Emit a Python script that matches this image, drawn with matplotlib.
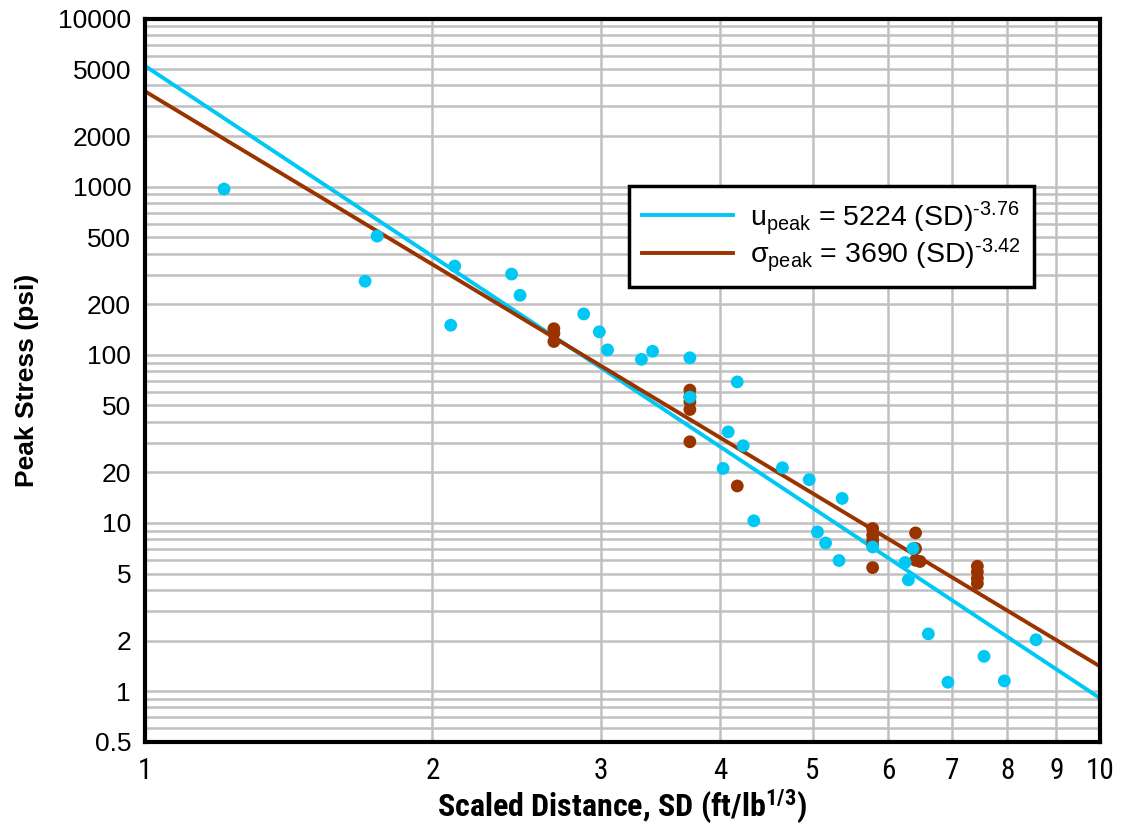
import numpy as np
import matplotlib
matplotlib.use("Agg")
import matplotlib.pyplot as plt
from matplotlib import font_manager
from matplotlib.ticker import FixedLocator, NullFormatter, LogLocator

# pick a condensed face for the x axis if one is installed
installed = set(f.name for f in font_manager.fontManager.ttflist)
narrow = 'Liberation Sans'
for cand in ['Liberation Sans Narrow', 'DejaVu Sans Condensed', 'Roboto Condensed',
             'Open Sans Condensed', 'Noto Sans Condensed']:
    if cand in installed:
        narrow = cand
        break

plt.rcParams['font.family'] = ['Liberation Sans', 'DejaVu Sans']
plt.rcParams['mathtext.fontset'] = 'custom'
plt.rcParams['mathtext.rm'] = 'Liberation Sans'
plt.rcParams['mathtext.it'] = 'Liberation Sans:italic'
plt.rcParams['mathtext.bf'] = narrow + ':bold'

# particle velocity data (blue)
sd_u = [1.21, 1.70, 1.75, 2.09, 2.11, 2.42, 2.47, 2.88, 2.99, 3.05, 3.31, 3.40,
        3.72, 3.72, 4.17, 4.08, 4.23, 4.03, 4.34, 4.65, 4.96, 5.37, 5.06, 5.16,
        5.33, 5.78, 6.25, 6.30, 6.37, 6.61, 6.93, 7.56, 7.94, 8.57]
u_peak = [968, 274, 508, 150, 337, 302, 226, 175, 137, 107, 94, 105,
          96, 56, 69, 34.8, 28.8, 21.1, 10.3, 21.3, 18.1, 14.0, 8.85, 7.6,
          5.98, 7.2, 5.82, 4.59, 7.05, 2.19, 1.13, 1.61, 1.15, 2.02]

# stress data (brown)
sd_s = [2.68, 2.68, 2.68, 3.72, 3.72, 3.72, 3.72, 3.72, 4.17,
        5.78, 5.78, 5.78, 5.78, 5.78, 6.41, 6.41, 6.41, 6.48,
        7.44, 7.44, 7.44, 7.44]
s_peak = [143, 134, 120, 61.7, 56.3, 52.5, 47.3, 30.4, 16.6,
          9.27, 8.46, 7.9, 7.4, 5.43, 8.73, 7.05, 6.0, 5.9,
          5.53, 5.12, 4.68, 4.37]

# power-law fits
a_u, b_u = 5224, -3.76
a_s, b_s = 3690, -3.42

x_ticks = [1, 2, 3, 4, 5, 6, 7, 8, 9, 10]
y_ticks = [0.5, 1, 2, 5, 10, 20, 50, 100, 200, 500, 1000, 2000, 5000, 10000]

blue = '#00C8F5'
brown = '#993300'
grid_c = '#C0C0C0'

fig = plt.figure(figsize=(11.25, 8.26), dpi=100)
ax = fig.add_axes([0.1289, 0.102, 0.8489, 0.8756])
ax.set_xscale('log')
ax.set_yscale('log')
ax.set_xlim(1, 10)
ax.set_ylim(0.5, 10000)

xs = np.logspace(0, 1, 200)
ax.plot(xs, a_u * xs ** b_u, color=blue, lw=2.8, zorder=3,
        label=r'u$_{\mathrm{peak}}$ = 5224 (SD)$^{\text{-3.76}}$')
ax.plot(xs, a_s * xs ** b_s, color=brown, lw=2.8, zorder=3,
        label=r'σ$_{\mathrm{peak}}$ = 3690 (SD)$^{\text{-3.42}}$')

ax.scatter(sd_s, s_peak, s=85, color=brown, edgecolors='none', zorder=4)
ax.scatter(sd_u, u_peak, s=85, color=blue, edgecolors='none', zorder=5)

# grid: every minor decade line on y, integer lines on x
ax.xaxis.set_major_locator(FixedLocator(x_ticks))
ax.xaxis.set_minor_locator(FixedLocator([]))
ax.set_xticklabels([str(v) for v in x_ticks], family=narrow, fontsize=21)
ax.yaxis.set_major_locator(FixedLocator(y_ticks))
ax.yaxis.set_minor_locator(LogLocator(base=10, subs=np.arange(1, 10), numticks=20))
ax.yaxis.set_minor_formatter(NullFormatter())
ax.set_yticklabels([('%g' % v) for v in y_ticks], fontsize=19)
ax.grid(True, which='both', axis='y', color=grid_c, lw=1.8, zorder=0)
ax.grid(True, which='major', axis='x', color=grid_c, lw=1.8, zorder=0)
ax.set_axisbelow(True)
ax.tick_params(axis='both', which='both', length=0)
ax.tick_params(axis='y', pad=10)
ax.tick_params(axis='x', pad=11)

for sp in ax.spines.values():
    sp.set_linewidth(3)
    sp.set_color('black')
    sp.set_zorder(6)

ax.set_xlabel(r'Scaled Distance, SD (ft/lb$^{\mathbf{1/3}}$)', fontsize=23,
              fontweight='bold', family=narrow, labelpad=2)
ax.set_ylabel('Peak Stress (psi)', fontsize=19, fontweight='bold', labelpad=14)

leg = ax.legend(loc='upper left', bbox_to_anchor=(0.507, 0.768), borderaxespad=0,
                fontsize=20.5, fancybox=False, framealpha=1, edgecolor='black',
                handlelength=3.2, handletextpad=0.6, labelspacing=0.0,
                borderpad=0.45)
leg.get_frame().set_linewidth(2.5)
leg.set_zorder(7)

fig.savefig('out.png', dpi=100)
